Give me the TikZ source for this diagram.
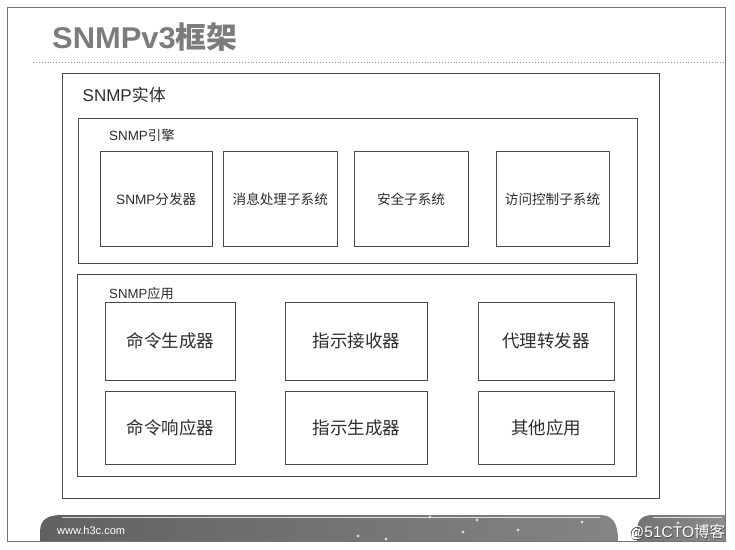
\documentclass[tikz,border=0pt]{standalone}
\usepackage{fontspec}
\setmainfont{Liberation Sans}
\newfontfamily\cjk{Noto Sans CJK SC}
\newcommand{\zh}[1]{{\cjk #1}}
\newcommand{\fs}[1]{\fontsize{#1}{#1}\selectfont}
\definecolor{linegray}{HTML}{4A4A4A}
\definecolor{txtgray}{HTML}{2E2E2E}
\definecolor{titlegray}{HTML}{7C7C7C}
\tikzset{
  frame/.style={draw=linegray, line width=0.9, inner sep=0, outer sep=0},
  subbox/.style={frame, text=txtgray, align=center},
  engtext/.style={font=\fs{13.6}},
  apptext/.style={font=\fs{17.5}},
  lbl/.style={anchor=west, inner sep=0, text=txtgray},
}
\begin{document}
\begin{tikzpicture}[x=1pt,y=-1pt]
\useasboundingbox (0,0) rectangle (735,549);
\fill[white] (0,0) rectangle (735,549);
% slide frame
\draw[black!55, line width=0.8] (7,7) rectangle (725,541);
% title
\node[anchor=west, inner sep=0, text=titlegray, font=\fs{30}\bfseries, xscale=1.03] (title) at (52,37) {SNMPv3\zh{框架}};
\coordinate (rl) at (33,62);
\coordinate (rr) at (725,62);
\draw[black!45, line width=0.9, dotted] (rl) -- (rr);

% entity
\node[frame, minimum width=597, minimum height=425] (entity) at (360.5,285.5) {};
\node[lbl, font=\fs{17}] (entitylbl) at (82.5,94.5) {SNMP\zh{实体}};

% engine
\node[frame, minimum width=559, minimum height=145] (engine) at (357.5,190.5) {};
\node[lbl, font=\fs{13.4}] (enginelbl) at (109,135) {SNMP\zh{引擎}};
\node[subbox, engtext, minimum width=112.5, minimum height=95] (disp) at (156.25,199) {SNMP\zh{分发器}};
\node[subbox, engtext, minimum width=114.5, minimum height=95] (msg) at (280.25,199) {\zh{消息处理子系统}};
\node[subbox, engtext, minimum width=114, minimum height=95] (sec) at (411,199) {\zh{安全子系统}};
\node[subbox, engtext, minimum width=113, minimum height=95] (acc) at (552.5,199) {\zh{访问控制子系统}};

% applications
\node[frame, minimum width=559, minimum height=201.5] (app) at (356.5,375.25) {};
\node[lbl, font=\fs{13.2}] (applbl) at (109,293) {SNMP\zh{应用}};
\node[subbox, apptext, minimum width=129.5, minimum height=77.5] (cg) at (170.25,341.25) {\zh{命令生成器}};
\node[subbox, apptext, minimum width=141.8, minimum height=77.5] (nr) at (356.6,341.25) {\zh{指示接收器}};
\node[subbox, apptext, minimum width=136, minimum height=77.5] (pf) at (546,341.25) {\zh{代理转发器}};
\node[subbox, apptext, minimum width=129.5, minimum height=72.5] (cr) at (170.25,427.75) {\zh{命令响应器}};
\node[subbox, apptext, minimum width=141.8, minimum height=72.5] (ng) at (356.6,427.75) {\zh{指示生成器}};
\node[subbox, apptext, minimum width=136, minimum height=72.5] (oa) at (546,427.75) {\zh{其他应用}};

% footer bars
\shade[left color=black!62, right color=black!48]
  (40,541) -- (40,532) .. controls (40,519) and (48,515) .. (62,515) -- (600,515)
  .. controls (612,515) and (618,522) .. (618,541) -- cycle;
\shade[left color=black!55, right color=black!45]
  (637,541) -- (637,531) .. controls (637,519) and (643,515) .. (653,515) -- (725,515) -- (725,541) -- cycle;
\draw[white, opacity=0.75, line width=1.4] (62,517.5) -- (600,517.5);
\draw[white, opacity=0.75, line width=1.4] (653,517.5) -- (722,517.5);
\foreach \p in {(358,536),(386,539),(430,517),(463,532),(477,520),(518,530),(582,522),(678,523)}
  \fill[white, opacity=0.7] \p circle (1.7);
\node[anchor=west, inner sep=0, text=white, font=\fs{11}] (web) at (57,531) {www.h3c.com};
\node[anchor=east, inner sep=0, text=black!70, font=\fs{15.5}] (wmshadow) at (726,533) {@51CTO\zh{博客}};
\node[anchor=east, inner sep=0, text=white, font=\fs{15.5}] (wm) at (725.3,532.3) {@51CTO\zh{博客}};
\end{tikzpicture}
\end{document}
